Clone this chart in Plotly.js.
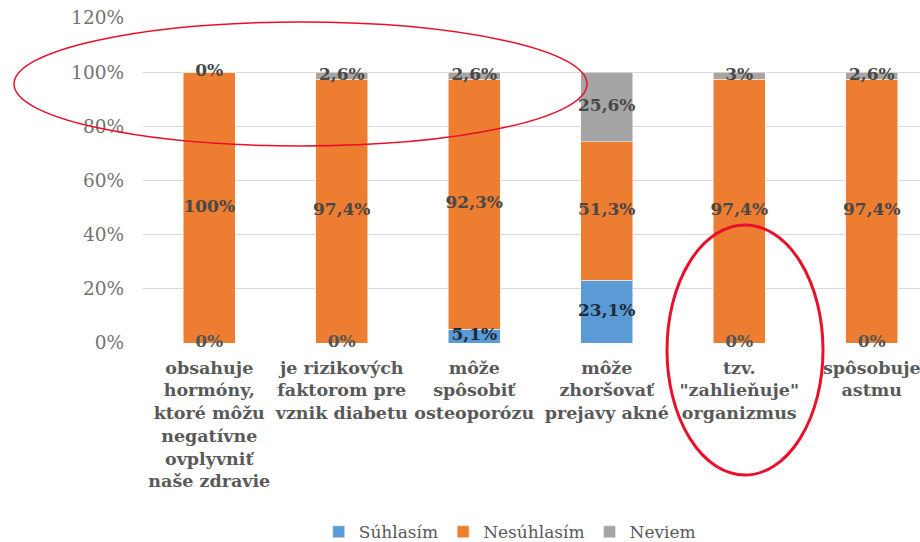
<!DOCTYPE html>
<html>
<head>
<meta charset="utf-8">
<script src="https://cdn.plot.ly/plotly-3.0.1.min.js"></script>
<style>html,body{margin:0;padding:0;background:#fff;}#chart{width:920px;height:542px;}</style>
</head>
<body>
<div id="chart"></div>
<script>
var categories = [
  "obsahuje<br>hormóny,<br>ktoré môžu<br>negatívne<br>ovplyvniť<br>naše zdravie",
  "je rizikových<br>faktorom pre<br>vznik diabetu",
  "môže<br>spôsobiť<br>osteoporózu",
  "môže<br>zhoršovať<br>prejavy akné",
  "tzv.<br>\"zahlieňuje\"<br>organizmus",
  "spôsobuje<br>astmu"
];
var suhlasim   = [0, 0, 5.1, 23.1, 0, 0];
var nesuhlasim = [100, 97.4, 92.3, 51.3, 97.4, 97.4];
var neviem     = [0, 2.6, 2.6, 25.6, 2.6, 2.6];
var suhlasimLabels   = ["0%", "0%", "5,1%", "23,1%", "0%", "0%"];
var nesuhlasimLabels = ["100%", "97,4%", "92,3%", "51,3%", "97,4%", "97,4%"];
var neviemLabels     = ["0%", "2,6%", "2,6%", "25,6%", "3%", "2,6%"];
var yTickVals  = [0, 20, 40, 60, 80, 100, 120];
var yTickTexts = ["0%", "20%", "40%", "60%", "80%", "100%", "120%"];

var SERIF = "DejaVu Serif, Liberation Serif, serif";
var colors = {s: "#5B9BD5", n: "#ED7D31", v: "#A5A5A5"};
var xIdx = categories.map(function(_, i){ return i; });

function barTrace(name, vals, color) {
  return {type: "bar", name: name, x: xIdx, y: vals, width: 0.395,
          marker: {color: color, line: {color: "rgba(255,240,225,0.7)", width: 0.8}},
          hoverinfo: "skip"};
}
function textTrace(yvals, labels, color) {
  return {type: "scatter", mode: "text", x: xIdx, y: yvals, text: labels,
          textposition: "middle center", showlegend: false, hoverinfo: "skip",
          cliponaxis: false,
          textfont: {family: SERIF, size: 17, color: color, weight: "bold"}};
}
var sMid = suhlasim.map(function(v){ return v / 2; });
var nMid = nesuhlasim.map(function(v, i){ return suhlasim[i] + v / 2; });
var vMid = neviem.map(function(v, i){ return suhlasim[i] + nesuhlasim[i] + v / 2; });
var sColors = suhlasim.map(function(v){ return v > 0 ? "#1e2a38" : "#555555"; });

var data = [
  barTrace("Súhlasím", suhlasim, colors.s),
  barTrace("Nesúhlasím", nesuhlasim, colors.n),
  barTrace("Neviem", neviem, colors.v),
  textTrace(sMid, suhlasimLabels, sColors),
  textTrace(nMid, nesuhlasimLabels, "#484848"),
  textTrace(vMid, neviemLabels, "#484848")
];

var layout = {
  width: 920, height: 542,
  margin: {l: 143, r: 0, t: 18, b: 199, pad: 0},
  paper_bgcolor: "#ffffff", plot_bgcolor: "#ffffff",
  barmode: "stack",
  showlegend: true,
  legend: {orientation: "h", xref: "paper", yref: "container",
           x: 0.472, xanchor: "center", y: 0.018, yanchor: "middle",
           font: {family: SERIF, size: 17, color: "#595959"},
           itemwidth: 30, traceorder: "normal"},
  xaxis: {range: [-0.5, 5.364], tickmode: "array", tickvals: xIdx, ticktext: categories,
          showgrid: false, zeroline: false, showline: false, ticks: "",
          tickangle: 0, ticklabelstandoff: 12, automargin: false,
          ticklabeloverflow: "allow",
          tickfont: {family: SERIF, size: 17.5, color: "#595959", weight: "bold"}},
  yaxis: {range: [0, 120], tickmode: "array", tickvals: yTickVals, ticktext: yTickTexts,
          showgrid: true, gridcolor: "#d9d9d9", gridwidth: 1.3, zeroline: false,
          showline: false, ticks: "", ticklabelstandoff: 18, automargin: false,
          tickfont: {family: SERIF, size: 18.5, color: "#737373"}},
  shapes: [
    {type: "circle", xref: "paper", yref: "paper",
     x0: (14 - 143) / 777, x1: (587 - 143) / 777,
     y0: (343 - 146) / 325, y1: (343 - 22) / 325,
     line: {color: "#e8102a", width: 1.5}},
    {type: "circle", xref: "paper", yref: "paper",
     x0: (667 - 143) / 777, x1: (823 - 143) / 777,
     y0: (343 - 475) / 325, y1: (343 - 225) / 325,
     line: {color: "#e8102a", width: 3}}
  ]
};

Plotly.newPlot("chart", data, layout, {displayModeBar: false, staticPlot: true});
</script>
</body>
</html>
